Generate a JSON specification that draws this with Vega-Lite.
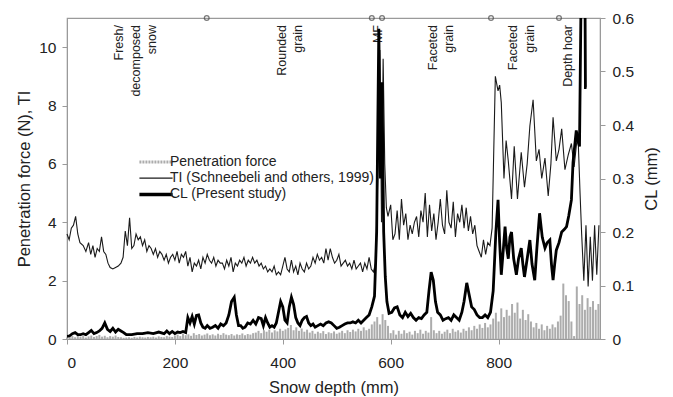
{
"$schema": "https://vega.github.io/schema/vega-lite/v6.json",
"width": 533, "height": 321,
"autosize": {"type": "none"},
"padding": {"left": 67, "top": 18, "right": 73, "bottom": 58},
"config": {
 "font": "Liberation Sans",
 "view": {"stroke": "#9a9a9a", "strokeWidth": 1.2},
 "axis": {"domainColor": "#9a9a9a", "tickColor": "#9a9a9a", "grid": false, "labelFontSize": 15.5, "labelColor": "#222", "titleFontSize": 16.5, "titleFontWeight": "normal", "titleColor": "#222", "tickSize": 5, "labelFont": "Liberation Sans", "titleFont": "Liberation Sans"}
},
"datasets": {
 "pf": [
{"x":0,"v":0.05},{"x":5,"v":0.08},{"x":10,"v":0.1},{"x":15,"v":0.06},{"x":20,"v":0.12},{"x":25,"v":0.08},{"x":30,"v":0.1},{"x":35,"v":0.05},{"x":40,"v":0.09},{"x":45,"v":0.12},
{"x":50,"v":0.07},{"x":55,"v":0.1},{"x":60,"v":0.14},{"x":65,"v":0.08},{"x":70,"v":0.11},{"x":75,"v":0.06},{"x":80,"v":0.1},{"x":85,"v":0.08},{"x":90,"v":0.12},{"x":95,"v":0.07},
{"x":100,"v":0.06},{"x":105,"v":0.04},{"x":110,"v":0.05},{"x":115,"v":0.06},{"x":120,"v":0.04},{"x":125,"v":0.07},{"x":130,"v":0.05},{"x":135,"v":0.08},{"x":140,"v":0.06},{"x":145,"v":0.05},
{"x":150,"v":0.07},{"x":155,"v":0.06},{"x":160,"v":0.08},{"x":165,"v":0.05},{"x":170,"v":0.09},{"x":175,"v":0.07},{"x":180,"v":0.06},{"x":185,"v":0.1},{"x":190,"v":0.08},{"x":195,"v":0.07},
{"x":200,"v":0.12},{"x":205,"v":0.15},{"x":210,"v":0.1},{"x":215,"v":0.18},{"x":220,"v":0.13},{"x":225,"v":0.16},{"x":230,"v":0.11},{"x":235,"v":0.2},{"x":240,"v":0.14},{"x":245,"v":0.17},
{"x":250,"v":0.12},{"x":255,"v":0.15},{"x":260,"v":0.19},{"x":265,"v":0.13},{"x":270,"v":0.16},{"x":275,"v":0.12},{"x":280,"v":0.18},{"x":285,"v":0.14},{"x":290,"v":0.2},{"x":295,"v":0.15},
{"x":300,"v":0.13},{"x":305,"v":0.17},{"x":310,"v":0.12},{"x":315,"v":0.16},{"x":320,"v":0.14},{"x":325,"v":0.19},{"x":330,"v":0.13},{"x":335,"v":0.17},{"x":340,"v":0.15},{"x":345,"v":0.2},
{"x":350,"v":0.22},{"x":355,"v":0.28},{"x":360,"v":0.2},{"x":365,"v":0.3},{"x":370,"v":0.25},{"x":375,"v":0.32},{"x":380,"v":0.22},{"x":385,"v":0.3},{"x":390,"v":0.26},{"x":395,"v":0.35},
{"x":400,"v":0.28},{"x":405,"v":0.33},{"x":410,"v":0.38},{"x":415,"v":0.48},{"x":420,"v":0.3},{"x":425,"v":0.4},{"x":430,"v":0.28},{"x":435,"v":0.36},{"x":440,"v":0.25},{"x":445,"v":0.32},
{"x":450,"v":0.22},{"x":455,"v":0.28},{"x":460,"v":0.18},{"x":465,"v":0.25},{"x":470,"v":0.2},{"x":475,"v":0.27},{"x":480,"v":0.17},{"x":485,"v":0.23},{"x":490,"v":0.2},{"x":495,"v":0.26},
{"x":500,"v":0.18},{"x":505,"v":0.22},{"x":510,"v":0.28},{"x":515,"v":0.2},{"x":520,"v":0.3},{"x":525,"v":0.24},{"x":530,"v":0.32},{"x":535,"v":0.26},{"x":540,"v":0.35},{"x":545,"v":0.28},
{"x":550,"v":0.4},{"x":555,"v":0.3},{"x":560,"v":0.35},{"x":565,"v":0.5},{"x":570,"v":0.6},{"x":575,"v":0.75},{"x":580,"v":0.5},{"x":585,"v":0.85},{"x":590,"v":0.65},{"x":595,"v":0.45},
{"x":600,"v":0.2},{"x":605,"v":0.3},{"x":610,"v":0.15},{"x":615,"v":0.28},{"x":620,"v":0.18},{"x":625,"v":0.3},{"x":630,"v":0.2},{"x":635,"v":0.25},{"x":640,"v":0.15},{"x":645,"v":0.28},
{"x":650,"v":0.2},{"x":655,"v":0.32},{"x":660,"v":0.18},{"x":665,"v":0.28},{"x":670,"v":0.22},{"x":675,"v":0.75},{"x":680,"v":0.3},{"x":685,"v":0.2},{"x":690,"v":0.28},{"x":695,"v":0.18},
{"x":700,"v":0.25},{"x":705,"v":0.32},{"x":710,"v":0.2},{"x":715,"v":0.35},{"x":720,"v":0.25},{"x":725,"v":0.3},{"x":730,"v":0.22},{"x":735,"v":0.35},{"x":740,"v":0.28},{"x":745,"v":0.4},
{"x":750,"v":0.3},{"x":755,"v":0.45},{"x":760,"v":0.35},{"x":765,"v":0.5},{"x":770,"v":0.38},{"x":775,"v":0.55},{"x":780,"v":0.4},{"x":785,"v":0.5},{"x":790,"v":0.7},{"x":795,"v":0.9},
{"x":800,"v":0.6},{"x":805,"v":1.05},{"x":810,"v":0.75},{"x":815,"v":1.0},{"x":820,"v":0.8},{"x":825,"v":1.2},{"x":830,"v":0.9},{"x":835,"v":1.25},{"x":840,"v":0.7},{"x":845,"v":1.0},
{"x":850,"v":0.65},{"x":855,"v":0.85},{"x":860,"v":0.6},{"x":865,"v":0.4},{"x":870,"v":0.55},{"x":875,"v":0.35},{"x":880,"v":0.5},{"x":885,"v":0.3},{"x":890,"v":0.45},{"x":895,"v":0.35},
{"x":900,"v":0.5},{"x":905,"v":0.4},{"x":910,"v":0.6},{"x":915,"v":0.8},{"x":920,"v":1.9},{"x":925,"v":1.5},{"x":930,"v":1.3},{"x":935,"v":0.6},{"x":940,"v":0.1},{"x":945,"v":1.8},
{"x":950,"v":1.2},{"x":955,"v":1.5},{"x":960,"v":1.0},{"x":965,"v":1.4},{"x":970,"v":1.1},{"x":975,"v":1.3},{"x":980,"v":1.0},{"x":985,"v":1.2}
 ],
 "ti": [
{"x":0,"v":3.6},{"x":4,"v":3.4},{"x":8,"v":3.8},{"x":12,"v":3.9},{"x":16,"v":4.2},{"x":20,"v":3.6},{"x":24,"v":3.3},{"x":30,"v":3.2},{"x":35,"v":3.0},{"x":40,"v":3.3},
{"x":44,"v":2.9},{"x":48,"v":3.2},{"x":52,"v":2.8},{"x":56,"v":3.1},{"x":60,"v":3.0},{"x":64,"v":3.5},{"x":68,"v":3.0},{"x":72,"v":2.9},{"x":76,"v":2.6},{"x":80,"v":2.45},
{"x":85,"v":2.4},{"x":90,"v":2.45},{"x":95,"v":2.5},{"x":100,"v":2.6},{"x":104,"v":2.8},{"x":108,"v":3.7},{"x":112,"v":3.2},{"x":116,"v":4.15},{"x":120,"v":3.1},{"x":124,"v":3.2},
{"x":128,"v":3.6},{"x":132,"v":3.4},{"x":136,"v":3.5},{"x":140,"v":3.2},{"x":144,"v":3.4},{"x":148,"v":3.0},{"x":152,"v":3.2},{"x":156,"v":3.1},{"x":160,"v":2.9},{"x":164,"v":3.1},
{"x":168,"v":2.8},{"x":172,"v":3.0},{"x":176,"v":2.9},{"x":180,"v":2.7},{"x":184,"v":2.9},{"x":188,"v":2.6},{"x":192,"v":2.8},{"x":196,"v":2.9},{"x":200,"v":2.7},{"x":204,"v":3.0},
{"x":208,"v":2.6},{"x":212,"v":2.9},{"x":216,"v":2.8},{"x":220,"v":3.0},{"x":224,"v":2.5},{"x":228,"v":2.8},{"x":232,"v":2.3},{"x":236,"v":2.6},{"x":240,"v":2.5},{"x":244,"v":2.7},
{"x":248,"v":2.4},{"x":252,"v":2.8},{"x":256,"v":2.6},{"x":260,"v":2.9},{"x":264,"v":2.7},{"x":268,"v":2.6},{"x":272,"v":2.8},{"x":276,"v":2.5},{"x":280,"v":2.7},{"x":284,"v":2.6},
{"x":288,"v":2.6},{"x":292,"v":2.4},{"x":296,"v":2.7},{"x":300,"v":2.5},{"x":304,"v":2.8},{"x":308,"v":2.3},{"x":312,"v":2.6},{"x":316,"v":2.5},{"x":320,"v":2.7},{"x":324,"v":2.6},
{"x":328,"v":2.8},{"x":332,"v":2.5},{"x":336,"v":2.7},{"x":340,"v":2.6},{"x":344,"v":2.8},{"x":348,"v":2.6},{"x":352,"v":2.7},{"x":356,"v":2.5},{"x":360,"v":2.6},{"x":364,"v":2.4},
{"x":368,"v":2.5},{"x":372,"v":2.3},{"x":376,"v":2.4},{"x":380,"v":2.3},{"x":384,"v":2.5},{"x":388,"v":2.2},{"x":392,"v":2.3},{"x":396,"v":2.2},{"x":400,"v":2.5},{"x":404,"v":2.8},
{"x":408,"v":2.4},{"x":412,"v":2.3},{"x":416,"v":2.7},{"x":420,"v":2.3},{"x":424,"v":2.5},{"x":428,"v":2.2},{"x":432,"v":2.6},{"x":436,"v":2.4},{"x":440,"v":2.3},{"x":444,"v":2.6},
{"x":448,"v":2.4},{"x":452,"v":2.5},{"x":456,"v":2.8},{"x":460,"v":2.6},{"x":464,"v":2.9},{"x":468,"v":2.7},{"x":472,"v":2.8},{"x":476,"v":2.6},{"x":480,"v":3.1},{"x":484,"v":2.7},
{"x":488,"v":3.1},{"x":492,"v":2.8},{"x":496,"v":2.6},{"x":500,"v":2.7},{"x":504,"v":2.9},{"x":508,"v":2.5},{"x":512,"v":2.6},{"x":516,"v":2.7},{"x":520,"v":2.5},{"x":524,"v":2.6},
{"x":528,"v":2.4},{"x":532,"v":2.7},{"x":536,"v":2.4},{"x":540,"v":2.5},{"x":544,"v":2.6},{"x":548,"v":2.3},{"x":552,"v":2.6},{"x":556,"v":2.4},{"x":560,"v":2.8},{"x":564,"v":2.4},
{"x":568,"v":2.3},{"x":572,"v":2.6},{"x":576,"v":5.5},{"x":580,"v":9.9},{"x":583,"v":4.0},{"x":586,"v":9.6},{"x":589,"v":6.0},{"x":592,"v":4.5},{"x":595,"v":4.2},{"x":600,"v":4.6},
{"x":604,"v":3.4},{"x":608,"v":3.6},{"x":612,"v":4.4},{"x":616,"v":3.4},{"x":620,"v":4.8},{"x":624,"v":3.9},{"x":628,"v":4.3},{"x":632,"v":3.4},{"x":636,"v":3.9},{"x":640,"v":3.6},
{"x":644,"v":4.0},{"x":648,"v":4.2},{"x":652,"v":3.5},{"x":656,"v":4.4},{"x":660,"v":4.0},{"x":664,"v":5.0},{"x":668,"v":3.5},{"x":672,"v":4.6},{"x":676,"v":3.7},{"x":680,"v":4.3},
{"x":684,"v":3.4},{"x":688,"v":4.0},{"x":692,"v":4.8},{"x":696,"v":3.9},{"x":700,"v":3.6},{"x":704,"v":5.1},{"x":708,"v":4.0},{"x":712,"v":3.8},{"x":716,"v":4.7},{"x":720,"v":3.5},
{"x":724,"v":4.3},{"x":728,"v":4.0},{"x":732,"v":4.6},{"x":736,"v":3.8},{"x":740,"v":4.5},{"x":744,"v":3.7},{"x":748,"v":4.2},{"x":752,"v":3.6},{"x":756,"v":3.9},{"x":760,"v":3.2},
{"x":764,"v":3.0},{"x":768,"v":2.8},{"x":772,"v":3.4},{"x":776,"v":2.9},{"x":780,"v":3.3},{"x":784,"v":3.2},{"x":788,"v":3.8},{"x":794,"v":9.0},{"x":799,"v":8.5},{"x":802,"v":8.7},
{"x":805,"v":8.1},{"x":810,"v":5.5},{"x":814,"v":6.8},{"x":818,"v":6.1},{"x":824,"v":4.8},{"x":829,"v":6.6},{"x":835,"v":4.8},{"x":842,"v":6.4},{"x":848,"v":5.2},{"x":853,"v":6.0},
{"x":858,"v":7.3},{"x":864,"v":8.2},{"x":870,"v":6.1},{"x":875,"v":6.5},{"x":880,"v":5.5},{"x":886,"v":6.2},{"x":892,"v":4.9},{"x":897,"v":6.0},{"x":901,"v":7.6},{"x":907,"v":6.1},
{"x":912,"v":6.5},{"x":917,"v":7.2},{"x":923,"v":5.8},{"x":929,"v":6.3},{"x":935,"v":6.7},{"x":940,"v":5.9},{"x":944,"v":6.6},{"x":947,"v":7.1},{"x":951,"v":5.0},{"x":954,"v":3.6},
{"x":958,"v":2.0},{"x":962,"v":3.9},{"x":966,"v":1.8},{"x":970,"v":3.5},{"x":974,"v":2.0},{"x":978,"v":3.9},{"x":982,"v":2.2},{"x":986,"v":3.9}
 ],
 "cl": [
{"x":0,"cl":0.005},{"x":5,"cl":0.006},{"x":10,"cl":0.01},{"x":15,"cl":0.012},{"x":20,"cl":0.008},{"x":25,"cl":0.008},{"x":30,"cl":0.01},{"x":35,"cl":0.008},{"x":40,"cl":0.012},{"x":45,"cl":0.016},
{"x":50,"cl":0.01},{"x":55,"cl":0.012},{"x":60,"cl":0.015},{"x":65,"cl":0.02},{"x":70,"cl":0.03},{"x":75,"cl":0.018},{"x":80,"cl":0.014},{"x":85,"cl":0.02},{"x":90,"cl":0.013},{"x":95,"cl":0.018},
{"x":100,"cl":0.015},{"x":105,"cl":0.012},{"x":110,"cl":0.008},{"x":120,"cl":0.008},{"x":130,"cl":0.01},{"x":140,"cl":0.01},{"x":150,"cl":0.012},{"x":160,"cl":0.01},{"x":170,"cl":0.013},{"x":180,"cl":0.01},
{"x":185,"cl":0.015},{"x":190,"cl":0.01},{"x":195,"cl":0.014},{"x":200,"cl":0.01},{"x":205,"cl":0.013},{"x":210,"cl":0.012},{"x":215,"cl":0.014},{"x":220,"cl":0.012},{"x":224,"cl":0.04},{"x":228,"cl":0.03},
{"x":232,"cl":0.042},{"x":236,"cl":0.028},{"x":240,"cl":0.044},{"x":244,"cl":0.045},{"x":248,"cl":0.03},{"x":252,"cl":0.022},{"x":256,"cl":0.02},{"x":260,"cl":0.025},{"x":265,"cl":0.02},{"x":270,"cl":0.022},
{"x":275,"cl":0.025},{"x":280,"cl":0.02},{"x":285,"cl":0.028},{"x":290,"cl":0.025},{"x":295,"cl":0.03},{"x":300,"cl":0.045},{"x":305,"cl":0.07},{"x":310,"cl":0.078},{"x":314,"cl":0.045},{"x":318,"cl":0.025},
{"x":322,"cl":0.025},{"x":326,"cl":0.02},{"x":330,"cl":0.022},{"x":335,"cl":0.03},{"x":340,"cl":0.028},{"x":345,"cl":0.035},{"x":350,"cl":0.028},{"x":355,"cl":0.04},{"x":360,"cl":0.038},{"x":364,"cl":0.025},
{"x":368,"cl":0.04},{"x":372,"cl":0.03},{"x":376,"cl":0.022},{"x":380,"cl":0.025},{"x":384,"cl":0.022},{"x":388,"cl":0.03},{"x":392,"cl":0.05},{"x":396,"cl":0.07},{"x":400,"cl":0.06},{"x":404,"cl":0.035},
{"x":408,"cl":0.03},{"x":412,"cl":0.06},{"x":416,"cl":0.078},{"x":420,"cl":0.065},{"x":424,"cl":0.04},{"x":428,"cl":0.03},{"x":432,"cl":0.025},{"x":436,"cl":0.035},{"x":440,"cl":0.04},{"x":444,"cl":0.042},
{"x":448,"cl":0.03},{"x":452,"cl":0.025},{"x":456,"cl":0.028},{"x":460,"cl":0.022},{"x":465,"cl":0.025},{"x":470,"cl":0.028},{"x":475,"cl":0.025},{"x":480,"cl":0.03},{"x":485,"cl":0.032},{"x":490,"cl":0.03},
{"x":495,"cl":0.025},{"x":500,"cl":0.02},{"x":505,"cl":0.022},{"x":510,"cl":0.025},{"x":515,"cl":0.028},{"x":520,"cl":0.03},{"x":525,"cl":0.03},{"x":530,"cl":0.032},{"x":535,"cl":0.03},{"x":540,"cl":0.035},
{"x":545,"cl":0.03},{"x":550,"cl":0.035},{"x":555,"cl":0.04},{"x":560,"cl":0.045},{"x":565,"cl":0.06},{"x":570,"cl":0.08},{"x":574,"cl":0.2},{"x":578,"cl":0.58},{"x":581,"cl":0.3},{"x":584,"cl":0.48},
{"x":587,"cl":0.2},{"x":590,"cl":0.116},{"x":593,"cl":0.07},{"x":597,"cl":0.048},{"x":602,"cl":0.05},{"x":607,"cl":0.058},{"x":612,"cl":0.06},{"x":617,"cl":0.045},{"x":622,"cl":0.04},{"x":627,"cl":0.05},
{"x":632,"cl":0.042},{"x":637,"cl":0.048},{"x":642,"cl":0.04},{"x":647,"cl":0.035},{"x":652,"cl":0.04},{"x":657,"cl":0.038},{"x":662,"cl":0.045},{"x":667,"cl":0.05},{"x":671,"cl":0.09},{"x":675,"cl":0.125},
{"x":679,"cl":0.11},{"x":683,"cl":0.07},{"x":687,"cl":0.05},{"x":692,"cl":0.045},{"x":697,"cl":0.035},{"x":702,"cl":0.038},{"x":707,"cl":0.04},{"x":712,"cl":0.035},{"x":717,"cl":0.045},{"x":722,"cl":0.04},
{"x":727,"cl":0.035},{"x":732,"cl":0.05},{"x":736,"cl":0.07},{"x":741,"cl":0.105},{"x":745,"cl":0.085},{"x":750,"cl":0.06},{"x":755,"cl":0.055},{"x":760,"cl":0.045},{"x":765,"cl":0.04},{"x":770,"cl":0.04},
{"x":775,"cl":0.045},{"x":780,"cl":0.04},{"x":785,"cl":0.05},{"x":790,"cl":0.09},{"x":795,"cl":0.2},{"x":799,"cl":0.26},{"x":802,"cl":0.18},{"x":805,"cl":0.12},{"x":809,"cl":0.17},{"x":812,"cl":0.21},
{"x":815,"cl":0.17},{"x":818,"cl":0.15},{"x":821,"cl":0.19},{"x":824,"cl":0.2},{"x":828,"cl":0.15},{"x":833,"cl":0.12},{"x":837,"cl":0.15},{"x":842,"cl":0.17},{"x":845,"cl":0.14},{"x":848,"cl":0.116},
{"x":853,"cl":0.15},{"x":858,"cl":0.185},{"x":862,"cl":0.14},{"x":867,"cl":0.11},{"x":871,"cl":0.17},{"x":876,"cl":0.235},{"x":881,"cl":0.19},{"x":886,"cl":0.17},{"x":890,"cl":0.18},{"x":895,"cl":0.185},
{"x":898,"cl":0.14},{"x":901,"cl":0.11},{"x":904,"cl":0.14},{"x":907,"cl":0.166},{"x":912,"cl":0.18},{"x":917,"cl":0.2},{"x":922,"cl":0.205},{"x":926,"cl":0.21},{"x":930,"cl":0.23},{"x":935,"cl":0.26},
{"x":938,"cl":0.33},{"x":941,"cl":0.36},{"x":944,"cl":0.39},{"x":947,"cl":0.37},{"x":950,"cl":0.36},{"x":953,"cl":0.65},{"x":956,"cl":0.9},{"x":959,"cl":0.9},{"x":961,"cl":0.47},{"x":963,"cl":0.47}
 ],
 "markers": [{"x":259},{"x":565},{"x":584},{"x":786},{"x":912}],
 "zones": [
  {"x":86,"label":"Fresh/\ndecomposed\nsnow"},
  {"x":387,"label":"Rounded\ngrain"},
  {"x":565,"label":"MF"},
  {"x":667,"label":"Faceted\ngrain"},
  {"x":816,"label":"Faceted\ngrain"},
  {"x":918,"label":"Depth hoar"}
 ]
},
"layer": [
 {"layer": [
  {"data": {"name": "pf"},
   "mark": {"type": "rule", "strokeWidth": 2},
   "encoding": {
    "x": {"field": "x", "type": "quantitative", "scale": {"domain": [0, 988], "nice": false}, "axis": {"values": [0,200,400,600,800], "labelPadding": 11, "titlePadding": 9}, "title": "Snow depth (mm)"},
    "y": {"field": "v", "type": "quantitative", "scale": {"domain": [0, 11], "nice": false}, "axis": {"values": [0,2,4,6,8,10], "labelPadding": 6, "titlePadding": 6}, "title": "Penetration force (N), TI"},
    "y2": {"datum": 0},
    "color": {"datum": "Penetration force", "type": "nominal",
      "scale": {"domain": ["Penetration force", "TI (Schneebeli and others, 1999)", "CL (Present study)"], "range": ["#acacac", "#1a1a1a", "#000000"]},
      "legend": {"orient": "none", "legendX": 82, "legendY": 137, "title": null, "symbolType": "stroke", "symbolSize": 1100, "labelFontSize": 14, "labelFont": "Liberation Sans", "labelColor": "#222", "labelLimit": 0, "rowPadding": 2.2, "labelOffset": 7, "padding": 0,
        "encode": {"symbols": {"update": {"strokeWidth": {"signal": "datum.value === 'CL (Present study)' ? 3.5 : (datum.value === 'Penetration force' ? 3 : 1.2)"}, "strokeDash": {"signal": "datum.value === 'Penetration force' ? [2,1] : [1,0]"}}}}}}
   }},
  {"data": {"name": "ti"},
   "mark": {"type": "line", "strokeWidth": 1.1},
   "encoding": {
    "x": {"field": "x", "type": "quantitative"},
    "y": {"field": "v", "type": "quantitative"},
    "color": {"datum": "TI (Schneebeli and others, 1999)", "type": "nominal"}
   }},
  {"data": {"name": "markers"},
   "mark": {"type": "point", "shape": "circle", "filled": false, "stroke": "#444", "strokeWidth": 1.3, "size": 22},
   "encoding": {
    "x": {"field": "x", "type": "quantitative"},
    "y": {"datum": 11}
   }},
  {"data": {"name": "zones"},
   "mark": {"type": "text", "angle": 270, "align": "right", "baseline": "top", "fontSize": 12.5, "lineHeight": 16.5, "lineBreak": "\n", "color": "#222", "font": "Liberation Sans"},
   "encoding": {
    "x": {"field": "x", "type": "quantitative"},
    "y": {"datum": 10.76},
    "text": {"field": "label"}
   }}
 ]},
 {"data": {"name": "cl"},
  "mark": {"type": "line", "strokeWidth": 2.8, "clip": true},
  "encoding": {
   "x": {"field": "x", "type": "quantitative"},
   "y": {"field": "cl", "type": "quantitative", "scale": {"domain": [0, 0.6], "nice": false}, "axis": {"orient": "right", "values": [0,0.1,0.2,0.3,0.4,0.5,0.6], "format": "~g", "labelPadding": 7, "titlePadding": 10, "titleAngle": 270, "titleBaseline": "top"}, "title": "CL (mm)"},
   "color": {"datum": "CL (Present study)", "type": "nominal"}
  }}
],
"resolve": {"scale": {"y": "independent"}}
}
